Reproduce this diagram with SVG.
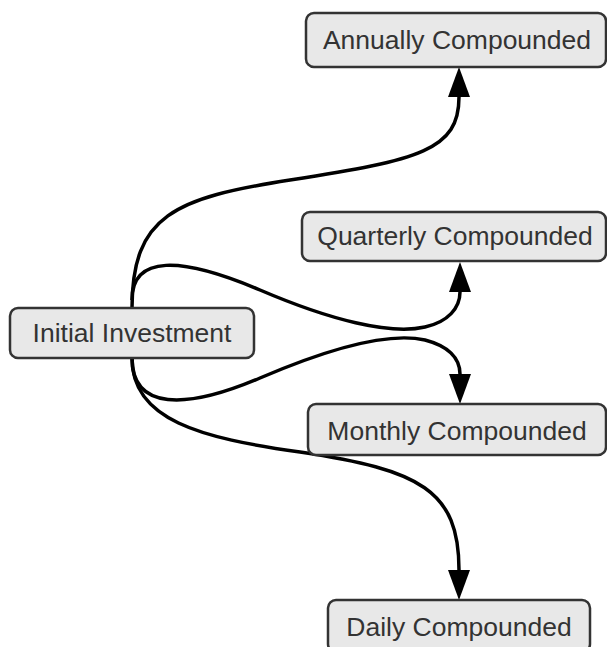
<svg xmlns="http://www.w3.org/2000/svg" width="607" height="647" viewBox="0 0 607 647">
<style>
.node rect{fill:#e8e8e8;stroke:#333;stroke-width:2.5}
.node text{font-family:"Liberation Sans",Arial,sans-serif;font-size:26.5px;fill:#333;text-anchor:middle;dominant-baseline:central}
.edge{fill:none;stroke:#000;stroke-width:3.5}
</style>
<defs>
<marker id="arr" markerUnits="userSpaceOnUse" markerWidth="32" markerHeight="24" refX="0" refY="12" orient="auto">
<path d="M0,1 L30,12 L0,23 Z" fill="#000"/>
</marker>
</defs>
<rect width="607" height="647" fill="#fff"/>
<g id="edges">
<path class="edge" marker-end="url(#arr)" d="M132,308 C132,215 175,198 290,180 C420,160 459,150 459,97"/>
<path class="edge" marker-end="url(#arr)" d="M132,300 C132,255 180,256 260,290 C330,320 390,335 425,327 C448,322 460,308 460,292"/>
<path class="edge" marker-end="url(#arr)" d="M132,358 C132,410 185,410 260,378 C330,348 390,332 425,340 C448,346 460,358 460,374"/>
<path class="edge" marker-end="url(#arr)" d="M132,358 C132,420 200,438 300,452 C420,470 459,490 459,570"/>
</g>
<g id="annually" class="node"><rect x="306" y="13" width="300" height="54" rx="8"/><text x="457" y="40">Annually Compounded</text></g>
<g id="quarterly" class="node"><rect x="302" y="212" width="304" height="49" rx="8"/><text x="455" y="236">Quarterly Compounded</text></g>
<g id="initial" class="node"><rect x="10" y="308" width="244" height="50" rx="8"/><text x="132" y="333">Initial Investment</text></g>
<g id="monthly" class="node"><rect x="308" y="404" width="298" height="51" rx="8"/><text x="457" y="431">Monthly Compounded</text></g>
<g id="daily" class="node"><rect x="328" y="600" width="262" height="52" rx="8"/><text x="459" y="627">Daily Compounded</text></g>
</svg>
